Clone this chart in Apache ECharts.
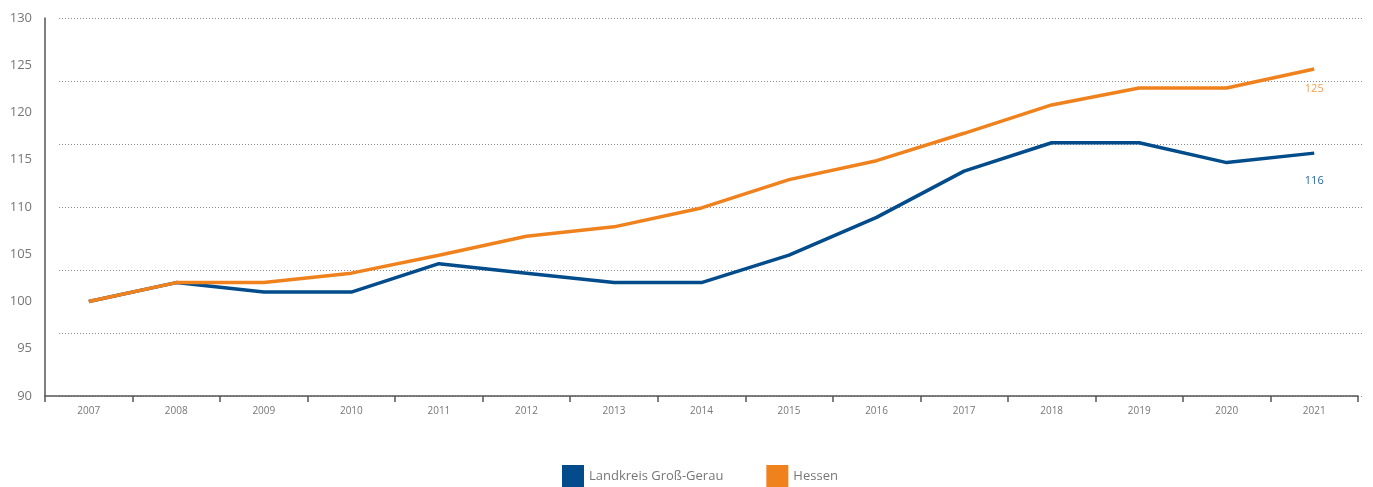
<!DOCTYPE html>
<html>
<head>
<meta charset="utf-8">
<script src="https://cdn.jsdelivr.net/npm/echarts@6/dist/echarts.min.js"></script>
<style>html,body{margin:0;padding:0;background:#fff}#c{width:1373px;height:487px}</style>
</head>
<body>
<div id="c"></div>
<script>
const years = ['2007','2008','2009','2010','2011','2012','2013','2014','2015','2016','2017','2018','2019','2020','2021'];
const grossGerau = [100, 102, 101, 101, 104, 103, 102, 102, 104.9, 108.9, 113.8, 116.8, 116.8, 114.7, 115.7];
const hessen = [100, 102, 102, 103, 104.9, 106.9, 107.9, 109.9, 112.9, 114.9, 117.8, 120.8, 122.6, 122.6, 124.6];
const seriesNames = ['Landkreis Groß-Gerau', 'Hessen'];
const yMin = 90, yMax = 130, yStep = 5;
const gridDivisions = 6;

const FONT = 'Open Sans';
const BLUE = '#024c8c';
const ORANGE = '#f0821e';

function withEndLabel(arr, color, dist) {
  return arr.map((v, i) => i === arr.length - 1 ? {
    value: v,
    label: { show: true, position: 'bottom', distance: dist, color: color, fontSize: 11, fontFamily: FONT,
      formatter: p => Math.round(p.value) }
  } : v);
}

const chart = echarts.init(document.getElementById('c'), null, { renderer: 'canvas' });
chart.setOption({
  animation: false,
  grid: [
    { left: 45, right: 15, top: 18, bottom: 91 },
    { left: 59, right: 11, top: 18, bottom: 91 }
  ],
  legend: {
    bottom: 0, left: 562, padding: 0,
    itemWidth: 22, itemHeight: 22, itemGap: 43,
    icon: 'rect',
    textStyle: { color: '#777', fontSize: 13, fontFamily: FONT },
    data: seriesNames
  },
  xAxis: [
    {
      type: 'category', data: years, gridIndex: 0, boundaryGap: true,
      axisLine: { lineStyle: { color: '#555', width: 1.5 } },
      axisTick: { show: true, length: 6, lineStyle: { color: '#555', width: 1.5 } },
      axisLabel: { color: '#777', fontSize: 10, fontFamily: FONT, margin: 10 },
      splitLine: { show: false }
    },
    { type: 'value', gridIndex: 1, show: false, min: 0, max: 1 }
  ],
  yAxis: [
    {
      type: 'value', gridIndex: 0, min: yMin, max: yMax, interval: yStep,
      axisLine: { show: true, lineStyle: { color: '#555', width: 1.5 } },
      axisTick: { show: false },
      axisLabel: { color: '#777', fontSize: 13, fontFamily: FONT, margin: 13 },
      splitLine: { show: false }
    },
    {
      type: 'value', gridIndex: 1, min: 0, max: gridDivisions, interval: 1,
      axisLine: { show: false }, axisTick: { show: false }, axisLabel: { show: false },
      splitLine: { show: true, lineStyle: { color: '#888', type: [1, 2], width: 1 } }
    }
  ],
  series: [
    {
      name: seriesNames[0], type: 'line', xAxisIndex: 0, yAxisIndex: 0,
      data: withEndLabel(grossGerau, '#2a64a6', 22),
      symbol: 'circle', symbolSize: 0.01, showSymbol: true,
      lineStyle: { color: BLUE, width: 3.5 }, itemStyle: { color: BLUE }, z: 3
    },
    {
      name: seriesNames[1], type: 'line', xAxisIndex: 0, yAxisIndex: 0,
      data: withEndLabel(hessen, '#f5a050', 14),
      symbol: 'circle', symbolSize: 0.01, showSymbol: true,
      lineStyle: { color: ORANGE, width: 3.5 }, itemStyle: { color: ORANGE }, z: 4
    }
  ]
});
</script>
</body>
</html>
